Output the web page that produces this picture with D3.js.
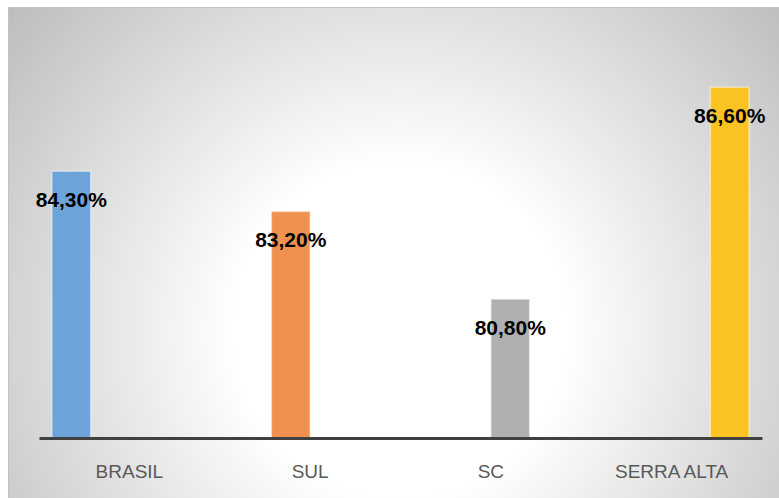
<!DOCTYPE html>
<html>
<head>
<meta charset="utf-8">
<script src="https://cdn.jsdelivr.net/npm/d3@7"></script>
<style>
  html, body { margin: 0; padding: 0; background: #ffffff; }
  svg { display: block; }
</style>
</head>
<body>
<svg id="chart" width="779" height="498"></svg>
<script>
const categories = ["BRASIL", "SUL", "SC", "SERRA ALTA"];
const values = [0.843, 0.832, 0.808, 0.866];
const valueLabels = ["84,30%", "83,20%", "80,80%", "86,60%"];
const colors = ["#6ca3d9", "#f0914f", "#b0b0b0", "#fac322"];
const yDomain = [0.77, 0.88];

const W = 779, H = 498;
const svg = d3.select("#chart");

const defs = svg.append("defs");
const grad = defs.append("radialGradient")
  .attr("id", "bg").attr("gradientUnits", "userSpaceOnUse")
  .attr("cx", 400).attr("cy", 330).attr("r", 500);
grad.append("stop").attr("offset", 0).attr("stop-color", "#ffffff");
grad.append("stop").attr("offset", 0.33).attr("stop-color", "#ffffff");
grad.append("stop").attr("offset", 1).attr("stop-color", "#bebebe");

svg.append("rect")
  .attr("x", 8.5).attr("y", 7.5).attr("width", W - 8).attr("height", H - 7)
  .attr("fill", "url(#bg)").attr("stroke", "#c2c2c2").attr("stroke-width", 1);

const x0 = d3.scaleBand().domain(categories).range([39, 762]).paddingInner(0).paddingOuter(0);
const x1 = d3.scaleBand().domain(categories).range([0, x0.bandwidth()]).paddingInner(0).paddingOuter(0.333);
const y = d3.scaleLinear().domain(yDomain).range([438, 36]);

const data = categories.map((c, i) => ({ c, v: values[i], label: valueLabels[i], color: colors[i] }));

// bars
svg.append("g").selectAll("rect").data(data).join("rect")
  .attr("x", d => x0(d.c) + x1(d.c))
  .attr("y", d => y(d.v))
  .attr("width", x1.bandwidth())
  .attr("height", d => y(yDomain[0]) - y(d.v))
  .attr("fill", d => d.color)
  .attr("stroke", "rgba(255,255,255,0.45)")
  .attr("stroke-width", 1.5);

// data labels
svg.append("g").selectAll("text").data(data).join("text")
  .attr("x", d => x0(d.c) + x1(d.c) + x1.bandwidth() / 2)
  .attr("y", d => y(d.v) + 36)
  .attr("text-anchor", "middle")
  .attr("font-family", "'Liberation Sans', Arial, sans-serif")
  .attr("font-weight", "bold")
  .attr("font-size", 21)
  .attr("fill", "#000000")
  .text(d => d.label);

// x axis
const axis = svg.append("g").attr("transform", `translate(0,${y(yDomain[0])})`)
  .call(d3.axisBottom(x0).tickSize(0).tickPadding(0));
axis.select(".domain").attr("stroke", "#404040").attr("stroke-width", 3);
axis.selectAll(".tick text")
  .attr("dy", 0).attr("y", 40)
  .attr("font-family", "'Liberation Sans', Arial, sans-serif")
  .attr("font-size", 19)
  .attr("fill", "#595959");
</script>
</body>
</html>
